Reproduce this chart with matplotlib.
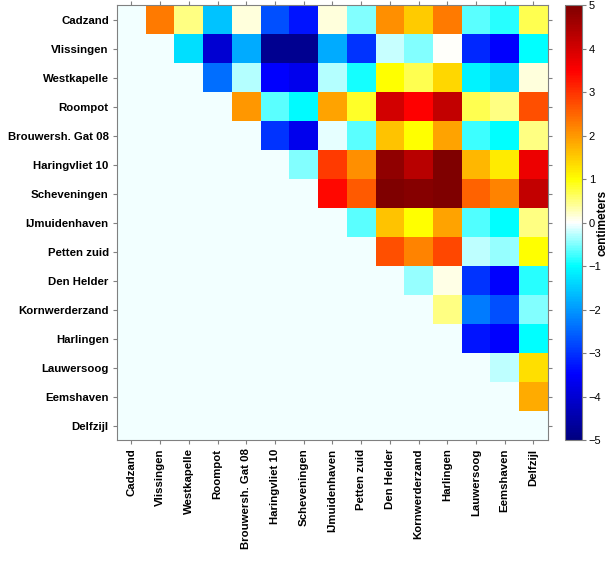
import numpy as np
import matplotlib
matplotlib.use("Agg")
import matplotlib.pyplot as plt
from matplotlib.colors import LinearSegmentedColormap

plt.rcParams["font.family"] = ["Liberation Sans", "DejaVu Sans"]

stations = ["Cadzand", "Vlissingen", "Westkapelle", "Roompot", "Brouwersh. Gat 08",
            "Haringvliet 10", "Scheveningen", "IJmuidenhaven", "Petten zuid",
            "Den Helder", "Kornwerderzand", "Harlingen", "Lauwersoog",
            "Eemshaven", "Delfzijl"]

# upper triangle values per row (columns j > i), in centimeters
row_cadzand = [2.3, 0.5, -1.6, 0.15, -2.7, -3.3, 0.15, -0.5, 2.1, 1.5, 2.3, -0.65, -0.85, 0.7]
row_vlissingen = [-1.3, -4.0, -1.8, -4.8, -4.8, -1.8, -3.0, -0.2, -0.5, 0.0, -3.1, -3.5, -1.0]
row_westkapelle = [-2.4, -0.3, -3.5, -3.7, -0.3, -0.9, 1.0, 0.7, 1.4, -1.1, -1.4, 0.15]
row_roompot = [2.0, -0.65, -1.05, 1.9, 0.85, 4.0, 3.5, 4.2, 0.7, 0.5, 2.7]
row_brouwersh = [-3.0, -3.7, -0.08, -0.65, 1.6, 1.0, 1.9, -0.75, -1.0, 0.5]
row_haringvliet = [-0.5, 2.9, 2.1, 4.8, 4.3, 5.0, 1.7, 1.2, 3.7]
row_scheveningen = [3.4, 2.6, 5.0, 4.9, 5.0, 2.5, 2.2, 4.2]
row_ijmuiden = [-0.65, 1.6, 1.0, 1.9, -0.7, -1.0, 0.5]
row_petten = [2.7, 2.2, 2.8, -0.25, -0.4, 1.0]
row_denhelder = [-0.4, 0.1, -3.0, -3.5, -0.85]
row_kornwerderzand = [0.5, -2.3, -2.7, -0.5]
row_harlingen = [-3.3, -3.5, -1.0]
row_lauwersoog = [-0.25, 1.3]
row_eemshaven = [1.8]

rows = [row_cadzand, row_vlissingen, row_westkapelle, row_roompot, row_brouwersh,
        row_haringvliet, row_scheveningen, row_ijmuiden, row_petten, row_denhelder,
        row_kornwerderzand, row_harlingen, row_lauwersoog, row_eemshaven]

n = len(stations)
mat = np.full((n, n), np.nan)
for i, r in enumerate(rows):
    mat[i, i + 1:] = r
data = np.ma.masked_invalid(mat)

cmap = LinearSegmentedColormap.from_list("jetwhite", [
    (0.00, (0.0, 0.0, 0.5)),
    (0.15, (0.0, 0.0, 1.0)),
    (0.40, (0.0, 1.0, 1.0)),
    (0.50, (1.0, 1.0, 1.0)),
    (0.60, (1.0, 1.0, 0.0)),
    (0.85, (1.0, 0.0, 0.0)),
    (1.00, (0.5, 0.0, 0.0)),
])
cmap.set_bad("#f2ffff")

fig = plt.figure(figsize=(6.1, 5.62), dpi=100)
ax = fig.add_axes([0.192, 0.217, 0.706, 0.774])
cax = fig.add_axes([0.926, 0.217, 0.028, 0.774])

im = ax.imshow(data, cmap=cmap, vmin=-5, vmax=5, aspect="auto", interpolation="nearest")

x = np.arange(n)
ax.set_xticks(x)
ax.set_xticklabels(stations, rotation=90, fontsize=8.2, fontweight="bold")
ax.set_yticks(x)
ax.set_yticklabels(stations, fontsize=8.2, fontweight="bold")
ax.tick_params(axis="both", direction="out", length=3, color="gray", pad=3,
               top=True, right=True, labeltop=False, labelright=False)
for s in ax.spines.values():
    s.set_color("gray")

cb = fig.colorbar(im, cax=cax, ticks=range(-5, 6))
cb.ax.tick_params(labelsize=8, length=3, color="gray", pad=2)
cb.outline.set_edgecolor("gray")
fig.text(0.988, 0.217 + 0.774 / 2, "centimeters", rotation=90, ha="center", va="center",
         fontsize=8.5, fontweight="bold")

plt.savefig("out.png", dpi=100)
